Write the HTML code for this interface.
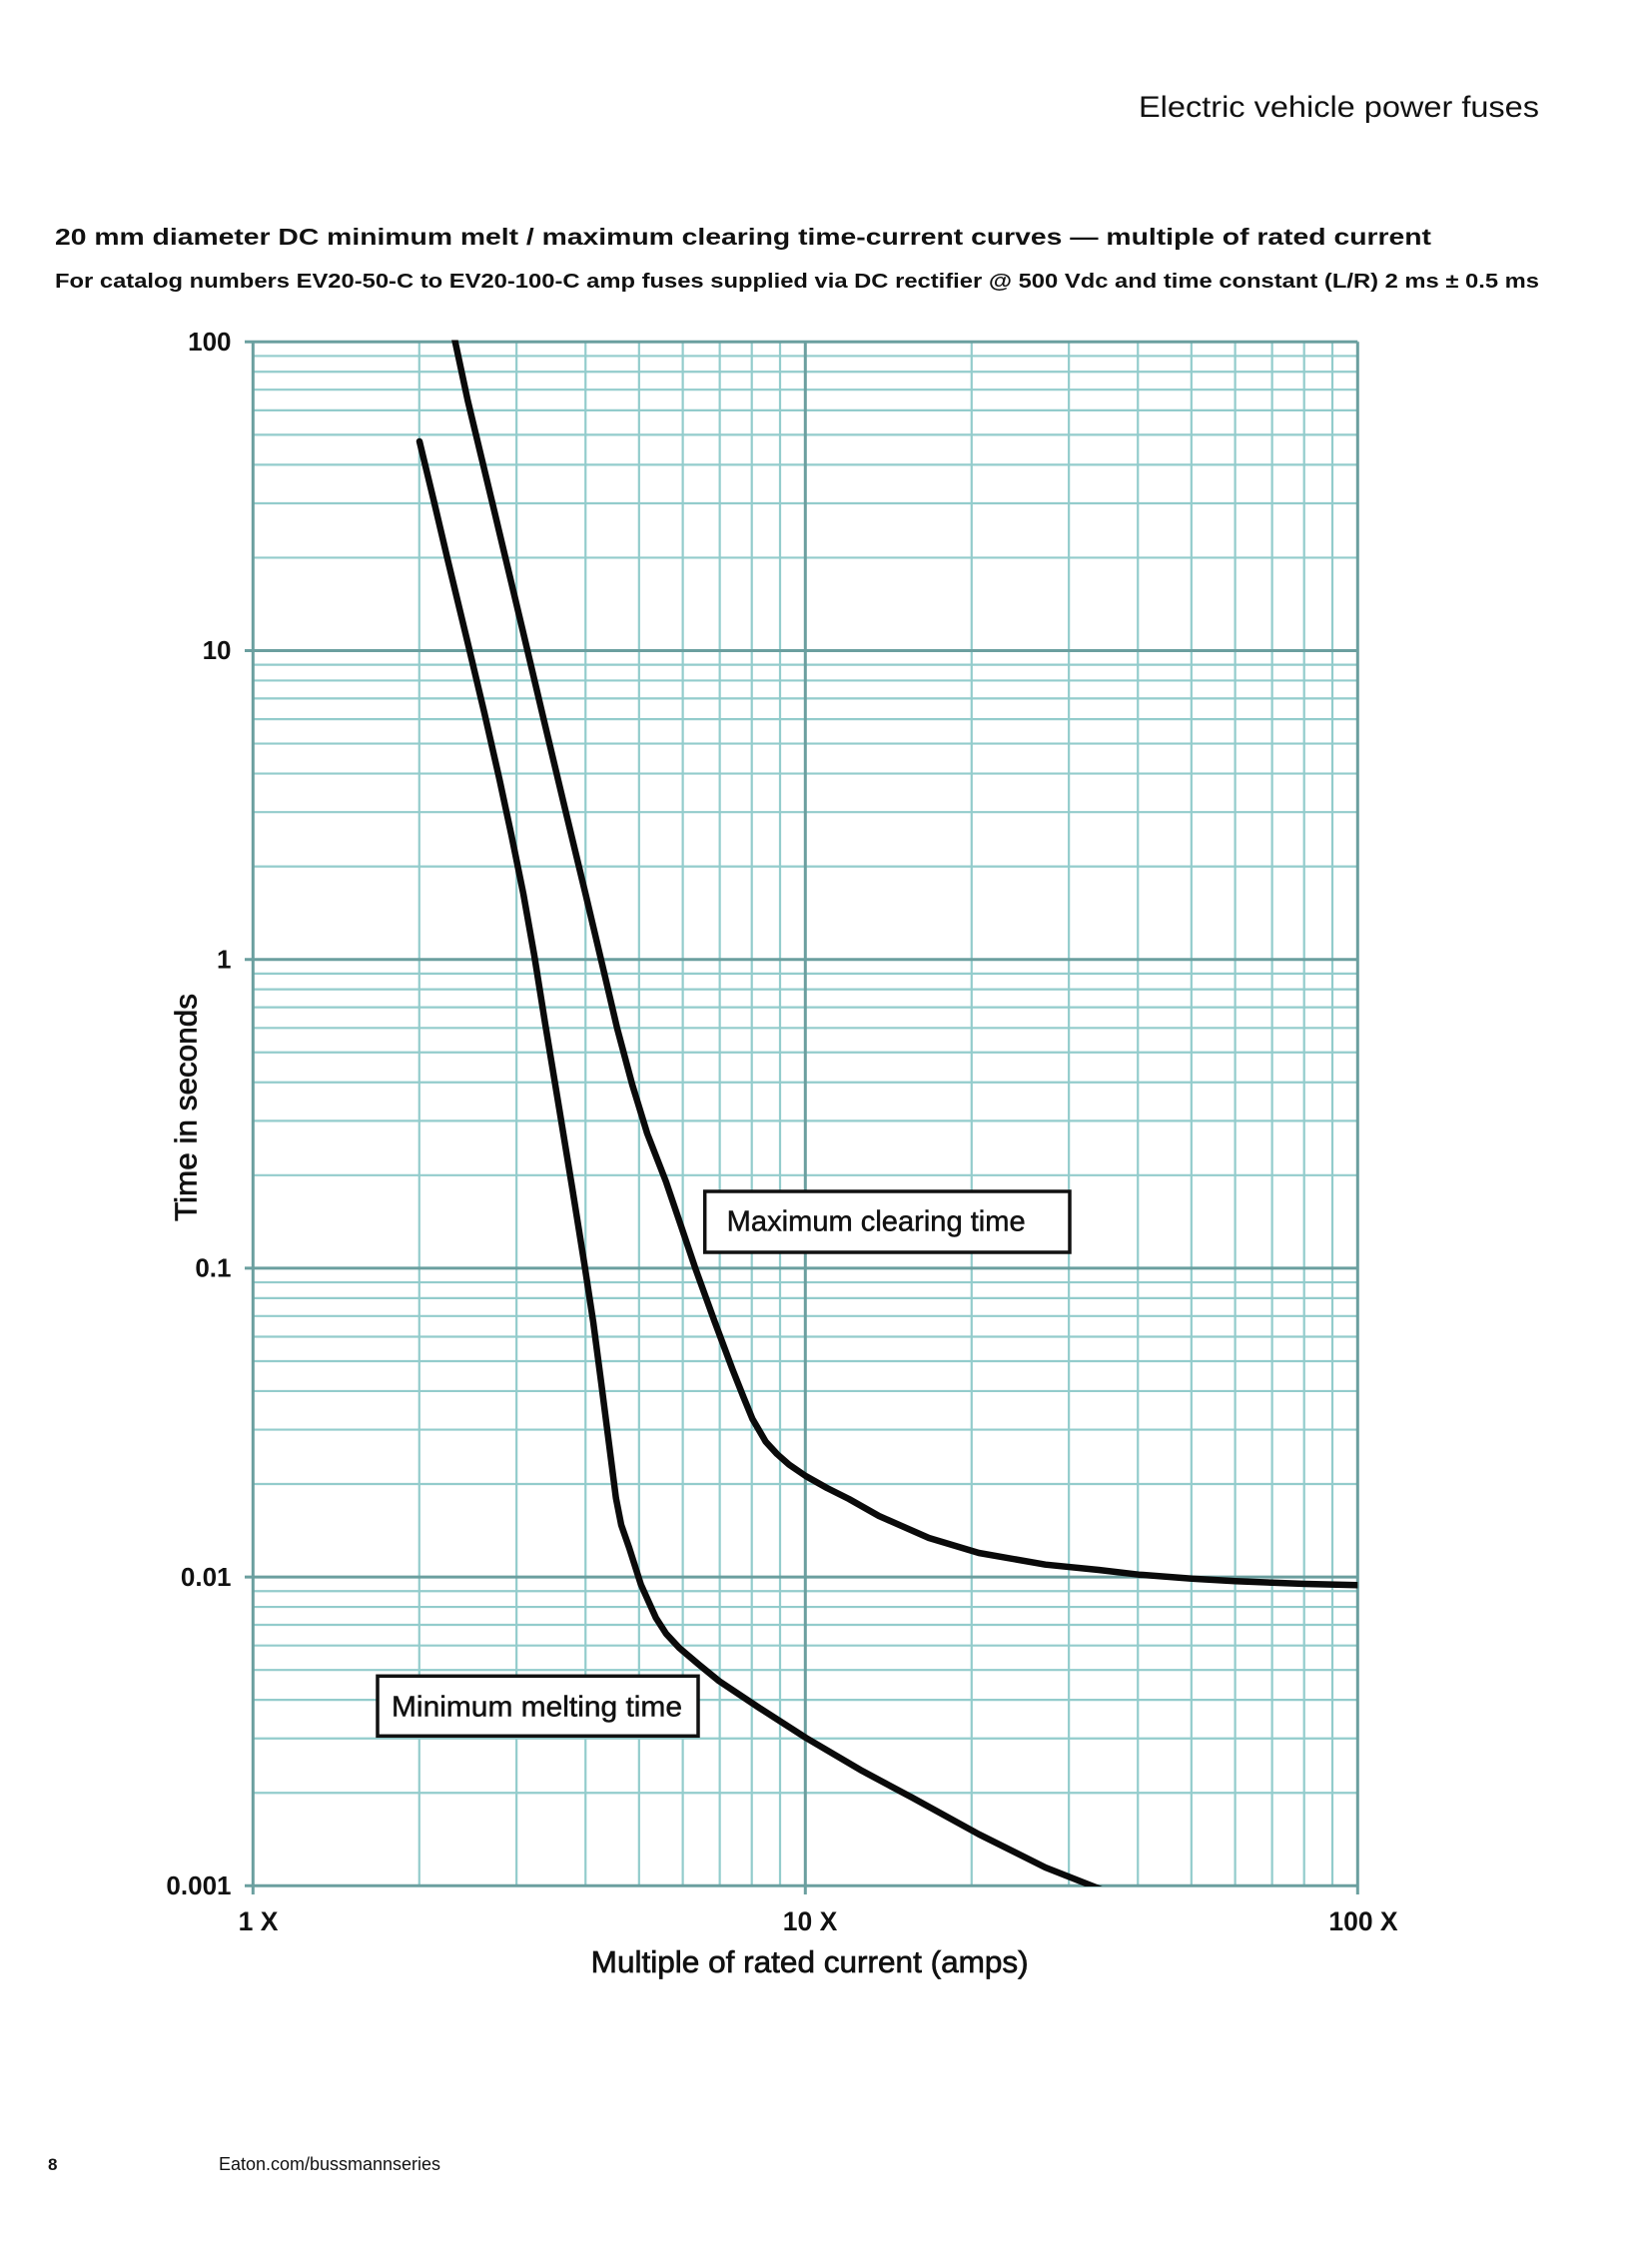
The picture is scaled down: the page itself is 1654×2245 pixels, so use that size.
<!DOCTYPE html>
<html>
<head>
<meta charset="utf-8">
<style>
  html,body{margin:0;padding:0;background:#fff;}
  svg{display:block;}
  text{font-family:"Liberation Sans",Arial,sans-serif;fill:#111;}
</style>
</head>
<body>
<svg width="1654" height="2245" viewBox="0 0 1654 2245" xmlns="http://www.w3.org/2000/svg">
  <rect x="0" y="0" width="1654" height="2245" fill="#fff"/>

  <!-- Header -->
  <text x="1140" y="117" font-size="30" textLength="401" lengthAdjust="spacingAndGlyphs">Electric vehicle power fuses</text>

  <!-- Titles -->
  <text x="55" y="245" font-size="23" font-weight="bold" textLength="1378" lengthAdjust="spacingAndGlyphs">20 mm diameter DC minimum melt / maximum clearing time-current curves — multiple of rated current</text>
  <text x="55" y="288" font-size="20" font-weight="bold" textLength="1486" lengthAdjust="spacingAndGlyphs">For catalog numbers EV20-50-C to EV20-100-C amp fuses supplied via DC rectifier @ 500 Vdc and time constant (L/R) 2 ms ± 0.5 ms</text>

  <!-- Minor horizontal grid -->
  <g stroke="#93cccc" stroke-width="2.2">
    <line x1="253.3" x2="1359.3" y1="356.45" y2="356.45"/>
    <line x1="253.3" x2="1359.3" y1="372.26" y2="372.26"/>
    <line x1="253.3" x2="1359.3" y1="390.19" y2="390.19"/>
    <line x1="253.3" x2="1359.3" y1="410.90" y2="410.90"/>
    <line x1="253.3" x2="1359.3" y1="435.38" y2="435.38"/>
    <line x1="253.3" x2="1359.3" y1="465.34" y2="465.34"/>
    <line x1="253.3" x2="1359.3" y1="503.97" y2="503.97"/>
    <line x1="253.3" x2="1359.3" y1="558.42" y2="558.42"/>

    <line x1="253.3" x2="1359.3" y1="665.65" y2="665.65"/>
    <line x1="253.3" x2="1359.3" y1="681.46" y2="681.46"/>
    <line x1="253.3" x2="1359.3" y1="699.39" y2="699.39"/>
    <line x1="253.3" x2="1359.3" y1="720.10" y2="720.10"/>
    <line x1="253.3" x2="1359.3" y1="744.58" y2="744.58"/>
    <line x1="253.3" x2="1359.3" y1="774.54" y2="774.54"/>
    <line x1="253.3" x2="1359.3" y1="813.17" y2="813.17"/>
    <line x1="253.3" x2="1359.3" y1="867.62" y2="867.62"/>

    <line x1="253.3" x2="1359.3" y1="974.85" y2="974.85"/>
    <line x1="253.3" x2="1359.3" y1="990.66" y2="990.66"/>
    <line x1="253.3" x2="1359.3" y1="1008.59" y2="1008.59"/>
    <line x1="253.3" x2="1359.3" y1="1029.30" y2="1029.30"/>
    <line x1="253.3" x2="1359.3" y1="1053.78" y2="1053.78"/>
    <line x1="253.3" x2="1359.3" y1="1083.74" y2="1083.74"/>
    <line x1="253.3" x2="1359.3" y1="1122.37" y2="1122.37"/>
    <line x1="253.3" x2="1359.3" y1="1176.82" y2="1176.82"/>

    <line x1="253.3" x2="1359.3" y1="1284.05" y2="1284.05"/>
    <line x1="253.3" x2="1359.3" y1="1299.86" y2="1299.86"/>
    <line x1="253.3" x2="1359.3" y1="1317.79" y2="1317.79"/>
    <line x1="253.3" x2="1359.3" y1="1338.50" y2="1338.50"/>
    <line x1="253.3" x2="1359.3" y1="1362.98" y2="1362.98"/>
    <line x1="253.3" x2="1359.3" y1="1392.94" y2="1392.94"/>
    <line x1="253.3" x2="1359.3" y1="1431.57" y2="1431.57"/>
    <line x1="253.3" x2="1359.3" y1="1486.02" y2="1486.02"/>

    <line x1="253.3" x2="1359.3" y1="1593.25" y2="1593.25"/>
    <line x1="253.3" x2="1359.3" y1="1609.06" y2="1609.06"/>
    <line x1="253.3" x2="1359.3" y1="1626.99" y2="1626.99"/>
    <line x1="253.3" x2="1359.3" y1="1647.70" y2="1647.70"/>
    <line x1="253.3" x2="1359.3" y1="1672.18" y2="1672.18"/>
    <line x1="253.3" x2="1359.3" y1="1702.14" y2="1702.14"/>
    <line x1="253.3" x2="1359.3" y1="1740.77" y2="1740.77"/>
    <line x1="253.3" x2="1359.3" y1="1795.22" y2="1795.22"/>
  </g>

  <!-- Minor vertical grid -->
  <g stroke="#93cccc" stroke-width="2.2">
    <line y1="342.3" y2="1888.3" x1="419.77" x2="419.77"/>
    <line y1="342.3" y2="1888.3" x1="517.15" x2="517.15"/>
    <line y1="342.3" y2="1888.3" x1="586.24" x2="586.24"/>
    <line y1="342.3" y2="1888.3" x1="639.83" x2="639.83"/>
    <line y1="342.3" y2="1888.3" x1="683.62" x2="683.62"/>
    <line y1="342.3" y2="1888.3" x1="720.64" x2="720.64"/>
    <line y1="342.3" y2="1888.3" x1="752.71" x2="752.71"/>
    <line y1="342.3" y2="1888.3" x1="781.00" x2="781.00"/>

    <line y1="342.3" y2="1888.3" x1="972.77" x2="972.77"/>
    <line y1="342.3" y2="1888.3" x1="1070.15" x2="1070.15"/>
    <line y1="342.3" y2="1888.3" x1="1139.24" x2="1139.24"/>
    <line y1="342.3" y2="1888.3" x1="1192.83" x2="1192.83"/>
    <line y1="342.3" y2="1888.3" x1="1236.62" x2="1236.62"/>
    <line y1="342.3" y2="1888.3" x1="1273.64" x2="1273.64"/>
    <line y1="342.3" y2="1888.3" x1="1305.71" x2="1305.71"/>
    <line y1="342.3" y2="1888.3" x1="1334.00" x2="1334.00"/>
  </g>

  <!-- Major grid -->
  <g stroke="#6b9f9f" stroke-width="3">
    <line x1="245" x2="1359.3" y1="342.3" y2="342.3"/>
    <line x1="245" x2="1359.3" y1="651.5" y2="651.5"/>
    <line x1="245" x2="1359.3" y1="960.7" y2="960.7"/>
    <line x1="245" x2="1359.3" y1="1269.9" y2="1269.9"/>
    <line x1="245" x2="1359.3" y1="1579.1" y2="1579.1"/>
    <line x1="245" x2="1359.3" y1="1888.3" y2="1888.3"/>
    <line y1="342.3" y2="1897" x1="253.3" x2="253.3"/>
    <line y1="342.3" y2="1897" x1="806.3" x2="806.3"/>
    <line y1="342.3" y2="1897" x1="1359.3" x2="1359.3"/>
  </g>

  <!-- Curves -->
  <defs>
    <clipPath id="plot">
      <rect x="253.3" y="340.5" width="1106" height="1548.5"/>
    </clipPath>
  </defs>
  <g clip-path="url(#plot)" fill="none" stroke="#0a0a0a" stroke-width="6.5" stroke-linejoin="round">
    <!-- Minimum melting time -->
    <polyline stroke-linecap="round" points="420,442 434,500 448.3,560.7 470,650.7 485,714 500,780 512,836 524,895 535,957 546,1026 560,1110.7 573,1190 585,1265 594,1324 602,1385 610,1447.5 616.7,1500 622,1527 630,1550 641.7,1586.7 656.7,1620 667,1636 680,1650 700,1667 720,1683.3 760,1710 806.7,1740 863.3,1773.3 913.3,1800 980,1836.7 1046.7,1870 1095,1889 1110,1895"/>
    <!-- Maximum clearing time -->
    <polyline stroke-linecap="butt" points="454,334 468.3,401 493.3,505 523.3,631 545,723 566,811 586.7,897 603,966 618,1030 633,1086 648,1135 666.7,1183 682,1228 696.7,1271.5 715,1322 733.3,1371 744,1398 753.3,1420.7 766.7,1443.7 778,1456 790,1466.6 806.7,1478 828,1490 850,1501 880,1518 930,1540 980,1555 1046.7,1566.7 1100,1572 1140,1576.7 1193.3,1580.7 1236.7,1583.3 1306.7,1586 1362,1587.3"/>
  </g>

  <!-- Label boxes -->
  <rect x="705.7" y="1193" width="365.3" height="61" fill="#fff" stroke="#111" stroke-width="3.5"/>
  <text x="727.7" y="1232.5" font-size="29" textLength="299" lengthAdjust="spacingAndGlyphs" stroke="#111" stroke-width="0.5">Maximum clearing time</text>

  <rect x="378" y="1678.3" width="321" height="60" fill="#fff" stroke="#111" stroke-width="3.5"/>
  <text x="392" y="1718.5" font-size="29" textLength="291" lengthAdjust="spacingAndGlyphs" stroke="#111" stroke-width="0.5">Minimum melting time</text>

  <!-- Y tick labels -->
  <g font-size="26" font-weight="bold" text-anchor="end">
    <text x="231.5" y="351">100</text>
    <text x="231.5" y="660">10</text>
    <text x="231.5" y="969.5">1</text>
    <text x="231.5" y="1278.5">0.1</text>
    <text x="231.5" y="1588">0.01</text>
    <text x="231.5" y="1897">0.001</text>
  </g>

  <!-- X tick labels -->
  <g font-size="26.5" font-weight="bold" text-anchor="middle">
    <text x="258.5" y="1933">1 X</text>
    <text x="811" y="1933">10 X</text>
    <text x="1365" y="1933">100 X</text>
  </g>

  <!-- Axis titles -->
  <text x="591.7" y="1975" font-size="31" textLength="438" lengthAdjust="spacingAndGlyphs" stroke="#111" stroke-width="0.7">Multiple of rated current (amps)</text>
  <text transform="translate(196.5,1223) rotate(-90)" x="0" y="0" font-size="31" textLength="228" lengthAdjust="spacingAndGlyphs" stroke="#111" stroke-width="0.7">Time in seconds</text>

  <!-- Footer -->
  <text x="48" y="2173" font-size="17" font-weight="bold">8</text>
  <text x="219" y="2173" font-size="18" textLength="222" lengthAdjust="spacingAndGlyphs">Eaton.com/bussmannseries</text>
</svg>
</body>
</html>
